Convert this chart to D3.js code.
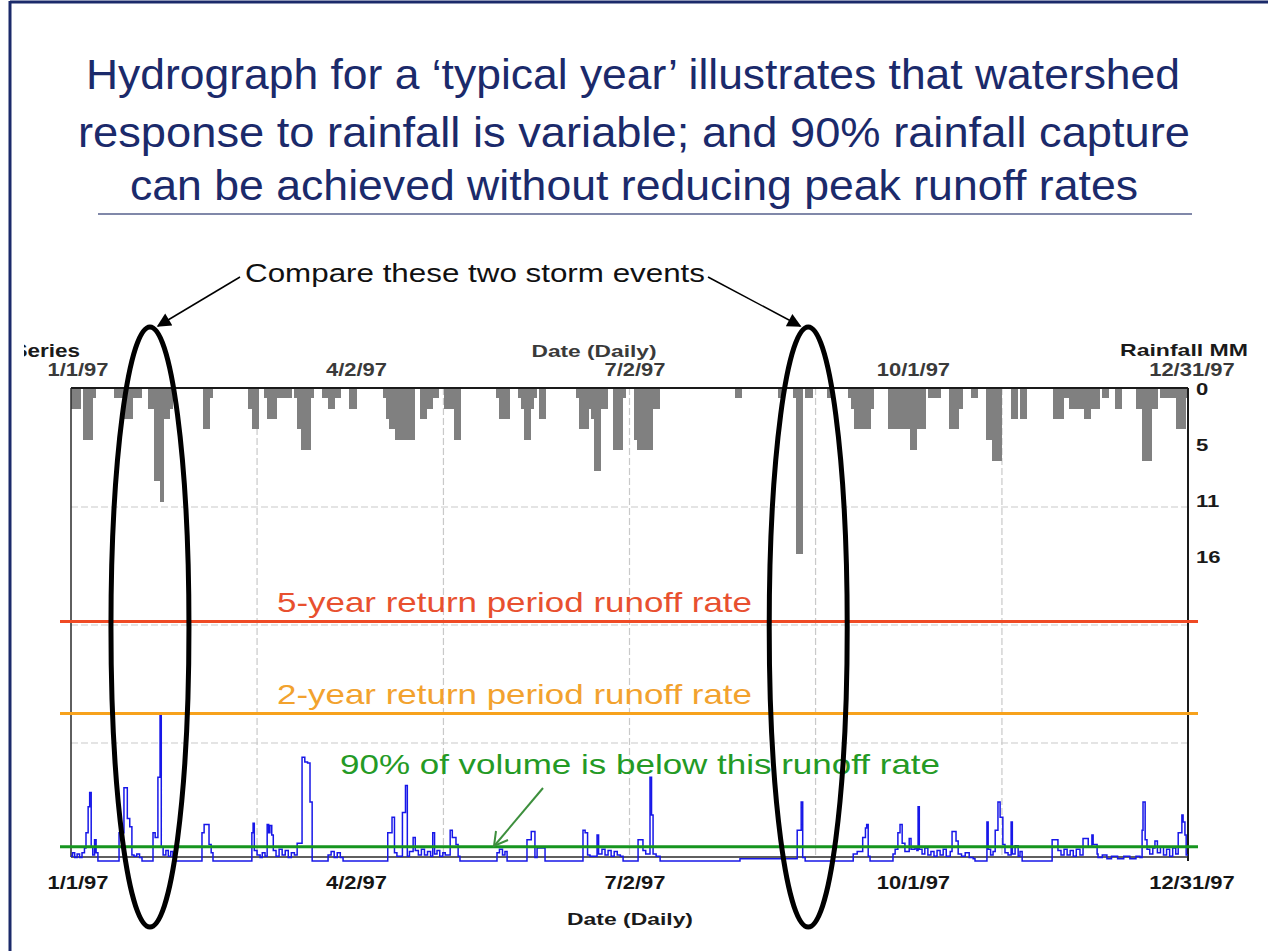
<!DOCTYPE html>
<html><head><meta charset="utf-8">
<script src="https://cdn.jsdelivr.net/npm/d3@7"></script>
<style>body{margin:0;background:#fff} svg{display:block}</style>
</head><body>
<svg id="c" width="1268" height="951"></svg>
<script>
// ---------------- DATA ----------------
const titleLines = [
  "Hydrograph for a \u2018typical year\u2019 illustrates that watershed",
  "response to rainfall is variable; and 90% rainfall capture",
  "can be achieved without reducing peak runoff rates"
];
const dateTickDays = [0, 91, 182, 273, 364];
const dateTickLabels = ["1/1/97", "4/2/97", "7/2/97", "10/1/97", "12/31/97"];
const gridDays = [60.8, 121.7, 182.5, 243.3, 304.2];
const rainTickValues = [0, 5.4, 10.8, 16.2];
const rainTickLabels = ["0", "5", "11", "16"];
const flowGridValues = [1, 2, 3];

// daily rainfall (mm): day of year index and depth
const rainDays = [0,1,2,4,5,6,7,14,15,16,17,18,19,20,21,22,25,26,27,28,29,30,31,32,43,44,45,58,59,60,
  63,64,65,66,67,68,69,70,71,73,74,75,76,77,78,82,83,84,85,86,87,91,92,
  102,103,104,105,106,107,108,109,110,111,114,115,116,117,118,119,122,123,124,125,126,
  139,140,141,142,146,147,148,149,150,151,153,154,165,166,167,168,169,170,171,172,173,174,
  177,178,179,180,184,185,186,187,188,189,190,191,217,218,231,236,237,238,240,241,247,
  254,255,256,257,258,259,260,261,267,268,269,270,271,272,273,274,275,276,277,278,
  280,281,282,283,287,288,289,290,294,295,299,300,301,302,303,307,308,310,311,
  321,322,323,324,325,326,327,328,329,330,331,332,333,334,335,337,338,341,342,
  348,349,350,351,352,353,354,356,357,358,359,360,361,362,363,364];
const rainMM = [2,2,2,5,5,5,1,1,1,1,3,3,3,1,1,1,2,2,9,9,11,3,3,2,4,4,1,2,4,4,
  1,3,3,3,1,1,1,1,1,1,4,6,6,6,1,1,1,2,2,1,1,2,2,
  1,3,4,4,5,5,5,5,5,5,3,3,2,2,1,1,2,2,2,5,5,
  1,3,3,3,1,2,5,5,2,1,3,3,1,4,4,4,2,3,8,8,2,2,
  6,6,6,1,5,6,6,6,6,6,2,2,1,1,1,1,16,16,1,1,1,
  1,2,4,4,4,4,4,2,4,4,4,4,4,4,4,6,6,4,4,4,
  1,1,1,1,4,4,4,2,1,1,5,5,7,7,7,3,3,3,3,
  3,3,3,1,1,2,2,2,2,2,3,3,2,2,2,1,1,2,2,
  2,2,7,7,7,2,2,1,1,1,1,1,4,4,4,1];

// runoff rate (arbitrary flow units): [day, flow], drawn as steps
const flowSeries = [
  [0,0.04],[0.5,0.07],[1.2,0.03],[2,0.06],[2.8,0.03],[3.6,0.07],[4.4,0.11],
  [4.9,0.24],[5.6,0.46],[6.1,0.58],[6.6,0.12],[7.1,0.05],[7.7,0.18],[8.2,0.07],[8.8,0],
  [15.7,0.24],[17.3,0.62],[18.4,0.36],[19.2,0.29],[19.9,0.05],[20.6,0.04],[21.5,0.06],[22.4,0.03],[23.2,0],
  [26.8,0.24],[27.5,0.2],[28.4,0.71],[29.1,1.23],[29.5,0.12],[30.1,0.05],[31,0.09],[31.8,0.04],[32.6,0.08],[33.3,0.03],[34,0],
  [42.8,0.24],[43.5,0.31],[45.1,0.14],[45.8,0.07],[46.4,0],
  [59.1,0.24],[59.5,0.32],[59.9,0.09],[60.8,0.05],[61.8,0.03],[62.5,0.07],[63.4,0.04],[64.1,0.31],[64.6,0.24],[65,0.3],[65.6,0.22],[66.1,0.09],
  [67,0.04],[68,0.1],[69,0.05],[70,0.09],[71,0.03],[72,0.07],[73,0.05],[73.9,0.15],[75.5,0.88],[76.4,0.84],[77.3,0.83],[78.1,0.5],[78.8,0],
  [84,0.05],[85,0.08],[86,0.03],[87,0.07],[88,0.03],[88.9,0],
  [103.5,0.24],[104.9,0.37],[105.7,0.07],[106.5,0.04],[108.3,0.41],[109.3,0.64],[109.9,0.04],[110.6,0.08],[111.8,0.2],[112.5,0.09],
  [113.5,0.05],[114.5,0.1],[115.5,0.05],[116.5,0.08],[117.5,0.04],[118.2,0.24],[118.8,0.06],[119.6,0.09],[120.5,0.04],[121.5,0.07],
  [122.3,0.05],[123.9,0.26],[124.6,0.2],[125.8,0.14],[126.5,0.04],[127.1,0],
  [139.2,0.07],[140,0.1],[141,0.05],[141.8,0.08],[142.5,0],
  [149,0.18],[150.4,0.25],[151.6,0.03],[152.3,0.11],[154.9,0],
  [167.3,0.26],[168,0.24],[168.8,0.05],[169.6,0.04],[171.9,0.22],[172.4,0.06],[173.5,0.1],[174.5,0.05],[175.5,0.09],[176.5,0.04],
  [177.5,0.08],[178.5,0.05],[179.5,0.04],[180.4,0],
  [185.3,0.18],[186.9,0.09],[187.8,0.06],[189.2,0.71],[189.7,0.39],[190.2,0.06],[191.2,0.04],[192.5,0],
  [218.6,0.02],
  [237.3,0.26],[238.6,0.5],[239.1,0.03],[239.9,0],
  [255.6,0.06],[256.9,0.08],[258.7,0.2],[259.6,0.28],[260,0.31],[260.5,0.04],[261.1,0],
  [268.6,0.06],[269.3,0.1],[270.2,0.24],[270.9,0.31],[271.6,0.15],[272.5,0.08],[273.9,0.19],[274.5,0.1],[275.8,0.11],[276.4,0.09],
  [276.8,0.46],[277.2,0.1],[278.1,0.06],[279,0.11],[280,0.05],[281,0.08],[282,0.04],[283,0.09],[284,0.05],[285,0.1],[286,0.04],
  [287.3,0.08],[287.9,0.25],[289.2,0.17],[289.9,0.06],[291,0.04],[292.2,0.07],[293.5,0.03],[294.8,0.02],[295.4,0],
  [299.3,0.33],[299.7,0.1],[300.5,0.05],[301.3,0.08],[302,0.26],[302.9,0.5],[303.6,0.37],[304.5,0.14],[305.2,0.07],[306.2,0.05],
  [307.2,0.33],[307.6,0.06],[308.5,0.13],[309.5,0.04],[310.1,0.08],[310.8,0],
  [320.6,0.18],[322.5,0.09],[323.5,0.05],[324.5,0.1],[325.5,0.05],[326.5,0.09],[327.5,0.04],[328.5,0.1],[329.7,0.05],[330.7,0.19],
  [332.4,0.12],[333.6,0.22],[334,0.14],[335.3,0.06],[335.6,0.03],[337,0.05],[338.5,0.02],[340,0.04],[342,0.02],[344,0.04],[346,0.02],
  [348,0.04],[349.3,0.03],[350,0.26],[350.3,0.5],[351,0.18],[351.6,0.1],[352.5,0.06],[353.5,0.11],[354.2,0.17],[355,0.07],[356,0.12],
  [357,0.05],[358,0.1],[359,0.04],[360,0.11],[361,0.06],[361.8,0.24],[363,0.39],[363.4,0.33],[364,0.22],[364.4,0.05],[365,0.05]
];

const thresholdLabels = ["5-year return period runoff rate", "2-year return period runoff rate", "90% of volume is below this runoff rate"];
const thresholdValues = [2.03, 1.25, 0.12];
const thresholdColors = ["#ef4a24", "#f7a21c", "#16951f"];
const thresholdTextColors = ["#e8502f", "#f2a22e", "#249a25"];
const highlightDays = [25.8, 240.9];
const annotationText = "Compare these two storm events";

// ---------------- DRAW ----------------
const svg = d3.select("#c");
const FONT = "'Liberation Sans', Arial, Helvetica, sans-serif";
const L = 71, R = 1188, T = 388, B = 857;

const x = d3.scaleLinear().domain([0, 365]).range([L, R]);
const yRain = d3.scaleLinear().domain([0, 16.2]).range([T, 556]);
const yFlow = d3.scaleLinear().domain([0, 4]).range([861, 389]);

function stretch(sel, factor, anchor) {
  sel.each(function () {
    const w = this.getComputedTextLength();
    const nw = w * factor;
    const x0 = +this.getAttribute("x");
    this.setAttribute("textLength", nw);
    this.setAttribute("lengthAdjust", "spacingAndGlyphs");
    this.setAttribute("text-anchor", "start");
    if (anchor === "middle") this.setAttribute("x", x0 - nw / 2);
    else if (anchor === "end") this.setAttribute("x", x0 - nw);
  });
}
function fitText(sel, len, anchor) {
  sel.each(function () {
    const x0 = +this.getAttribute("x");
    this.setAttribute("textLength", len);
    this.setAttribute("lengthAdjust", "spacingAndGlyphs");
    this.setAttribute("text-anchor", "start");
    if (anchor === "middle") this.setAttribute("x", x0 - len / 2);
    else if (anchor === "end") this.setAttribute("x", x0 - len);
  });
}

// slide border
svg.append("line").attr("x1", 10).attr("x2", 1268).attr("y1", 2).attr("y2", 2).attr("stroke", "#1b2a6a").attr("stroke-width", 3);
svg.append("line").attr("x1", 10).attr("x2", 10).attr("y1", 1).attr("y2", 951).attr("stroke", "#1b2a6a").attr("stroke-width", 3);

// title
const titleX = [86, 78, 130], titleLen = [1094, 1112, 1008], titleY = [89, 147, 200];
titleLines.forEach((t, i) => {
  svg.append("text").attr("x", titleX[i]).attr("y", titleY[i]).text(t)
    .attr("font-family", FONT).attr("font-size", 42).attr("fill", "#1b2a6b")
    .call(fitText, titleLen[i], "start");
});
svg.append("line").attr("x1", 98).attr("x2", 1192).attr("y1", 214).attr("y2", 214)
  .attr("stroke", "#56618c").attr("stroke-width", 1.5);

// gridlines
const grid = svg.append("g").attr("stroke", "#c9c9c9").attr("stroke-width", 1.2).attr("stroke-dasharray", "7,3");
grid.selectAll("line.v").data(gridDays).join("line").attr("class", "v")
  .attr("x1", d => x(d)).attr("x2", d => x(d)).attr("y1", T).attr("y2", B);
grid.selectAll("line.h").data(flowGridValues).join("line").attr("class", "h")
  .attr("x1", L).attr("x2", R).attr("y1", d => yFlow(d)).attr("y2", d => yFlow(d));

// rainfall bars
svg.append("g").attr("shape-rendering", "crispEdges").selectAll("rect").data(rainDays).join("rect")
  .attr("x", d => x(d)).attr("width", d => x(d + 1) - x(d) + 1)
  .attr("y", T).attr("height", (d, i) => yRain(rainMM[i]) - T)
  .attr("fill", "#808080");

// frame
svg.append("line").attr("x1", L).attr("x2", R).attr("y1", T).attr("y2", T).attr("stroke", "#1a1a1a").attr("stroke-width", 2);
svg.append("line").attr("x1", L).attr("x2", L).attr("y1", T).attr("y2", B).attr("stroke", "#2a2a2a").attr("stroke-width", 1.5);
svg.append("line").attr("x1", R).attr("x2", R).attr("y1", T).attr("y2", 861).attr("stroke", "#1a1a1a").attr("stroke-width", 2);
svg.append("line").attr("x1", L).attr("x2", R).attr("y1", B).attr("y2", B).attr("stroke", "#2a2a2a").attr("stroke-width", 1.5);

// hydrograph
const line = d3.line().x(d => x(d[0])).y(d => yFlow(d[1])).curve(d3.curveStepAfter);
svg.append("path").datum(flowSeries).attr("d", line)
  .attr("fill", "none").attr("stroke", "#1717e8").attr("stroke-width", 1.5);

// axis labels
const lab = svg.append("g").attr("font-family", FONT).attr("font-weight", "bold").attr("font-size", 18);
lab.selectAll("text.top").data(dateTickDays).join("text").attr("class", "top")
  .attr("x", d => x(d) + 7).attr("y", 376).attr("fill", "#3a3a3a")
  .text((d, i) => dateTickLabels[i]).call(stretch, 1.22, "middle");
lab.selectAll("text.bot").data(dateTickDays).join("text").attr("class", "bot")
  .attr("x", d => x(d) + 7).attr("y", 889).attr("fill", "#151515")
  .text((d, i) => dateTickLabels[i]).call(stretch, 1.22, "middle");
lab.selectAll("text.rt").data(rainTickValues).join("text").attr("class", "rt")
  .attr("x", R + 8).attr("y", d => yRain(d) + 7).attr("fill", "#1a1a1a")
  .attr("font-size", 17)
  .text((d, i) => rainTickLabels[i]).call(stretch, 1.3, "start");
lab.append("text").attr("x", 594).attr("y", 357).attr("fill", "#3a3a3a").attr("font-size", 17)
  .text("Date (Daily)").call(fitText, 125, "middle");
lab.append("text").attr("x", 630).attr("y", 925).attr("fill", "#1a1a1a").attr("font-size", 17)
  .text("Date (Daily)").call(fitText, 126, "middle");
lab.append("text").attr("x", 1120).attr("y", 356).attr("fill", "#1a1a1a").attr("font-size", 17)
  .text("Rainfall MM").call(fitText, 128, "start");
svg.append("clipPath").attr("id", "leftclip").append("rect").attr("x", 24).attr("y", 300).attr("width", 200).attr("height", 100);
lab.append("text").attr("x", 80).attr("y", 357).attr("fill", "#1a1a1a").attr("clip-path", "url(#leftclip)")
  .text("Series").call(stretch, 1.25, "end");

// threshold lines
svg.append("g").selectAll("line").data(thresholdValues).join("line")
  .attr("x1", L - 11).attr("x2", R + 10).attr("y1", d => yFlow(d)).attr("y2", d => yFlow(d))
  .attr("stroke", (d, i) => thresholdColors[i]).attr("stroke-width", 3);
const tX = [277, 277, 340], tLen = [475, 475, 600], tDy = [-9, -10, -73];
svg.append("g").attr("font-family", FONT).attr("font-size", 28)
  .selectAll("text").data(thresholdValues).join("text")
  .attr("x", (d, i) => tX[i]).attr("y", (d, i) => yFlow(d) + tDy[i])
  .attr("fill", (d, i) => thresholdTextColors[i]).text((d, i) => thresholdLabels[i])
  .each(function (d, i) { d3.select(this).call(fitText, tLen[i], "start"); });

// green arrow
svg.append("line").attr("x1", 543).attr("y1", 788).attr("x2", 495).attr("y2", 845)
  .attr("stroke", "#3d8f3d").attr("stroke-width", 2);
svg.append("polyline").attr("points", "496,831 494,846 508,840")
  .attr("fill", "none").attr("stroke", "#3d8f3d").attr("stroke-width", 2);

// ellipses
svg.append("g").selectAll("ellipse").data(highlightDays).join("ellipse")
  .attr("cx", d => x(d)).attr("cy", 627).attr("rx", 39).attr("ry", 300)
  .attr("fill", "none").attr("stroke", "#000").attr("stroke-width", 5);

// annotation
svg.append("text").attr("x", 245).attr("y", 282).attr("font-family", FONT).attr("font-size", 25)
  .attr("fill", "#111").text(annotationText).call(fitText, 460, "start");
const defs = svg.append("defs");
defs.append("marker").attr("id", "ah").attr("viewBox", "0 0 10 10").attr("refX", 9).attr("refY", 5)
  .attr("markerWidth", 16).attr("markerHeight", 14).attr("markerUnits", "userSpaceOnUse").attr("orient", "auto")
  .append("path").attr("d", "M0,0 L10,5 L0,10 z").attr("fill", "#000");
svg.append("line").attr("x1", 240).attr("y1", 277).attr("x2", x(highlightDays[0]) + 8).attr("y2", 326)
  .attr("stroke", "#000").attr("stroke-width", 1.5).attr("marker-end", "url(#ah)");
svg.append("line").attr("x1", 708).attr("y1", 277).attr("x2", x(highlightDays[1]) - 8).attr("y2", 326)
  .attr("stroke", "#000").attr("stroke-width", 1.5).attr("marker-end", "url(#ah)");
</script>
</body></html>
